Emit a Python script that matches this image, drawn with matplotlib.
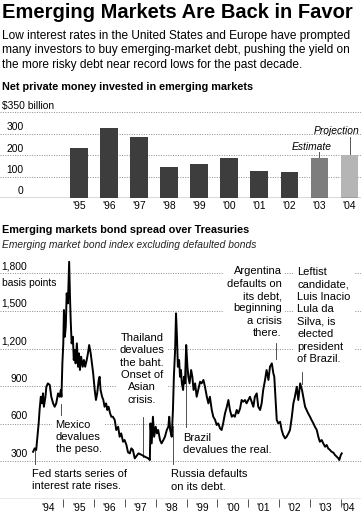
import matplotlib
matplotlib.use('Agg')
import matplotlib.pyplot as plt

plt.rcParams['font.family'] = ['Liberation Sans', 'DejaVu Sans']

W, H = 361, 520

# net private money invested in emerging markets, billions of dollars
bar_years = ["'95", "'96", "'97", "'98", "'99", "'00", "'01", "'02", "'03", "'04"]
bar_values = [235, 327, 284, 143, 158, 187, 127, 123, 187, 200]
bar_colors = ['#3d3d3d'] * 8 + ['#7d7d7d', '#b5b5b5']
bar_grid = [100, 200, 300, 400]
bar_grid_labels = ['100', '200', '300', '$350 billion']

# emerging market bond spread over treasuries, basis points
spread_dates = [
    1994.02, 1994.07, 1994.12, 1994.16, 1994.20, 1994.23, 1994.27, 1994.31, 1994.34, 1994.37,
    1994.42, 1994.45, 1994.50, 1994.56, 1994.61, 1994.67, 1994.72, 1994.77, 1994.83, 1994.88,
    1994.92, 1994.94, 1994.97, 1995.00, 1995.02, 1995.05, 1995.08, 1995.11, 1995.15, 1995.19,
    1995.22, 1995.24, 1995.27, 1995.31, 1995.34, 1995.37, 1995.40, 1995.44, 1995.48, 1995.51,
    1995.54, 1995.58, 1995.63, 1995.67, 1995.71, 1995.76, 1995.80, 1995.84, 1995.89, 1995.93,
    1995.97, 1996.02, 1996.06, 1996.10, 1996.15, 1996.18, 1996.21, 1996.26, 1996.30, 1996.34,
    1996.39, 1996.43, 1996.47, 1996.52, 1996.56, 1996.61, 1996.67, 1996.72, 1996.78, 1996.83,
    1996.88, 1996.94, 1996.99, 1997.05, 1997.10, 1997.16, 1997.21, 1997.26, 1997.32, 1997.44,
    1997.55, 1997.65, 1997.76, 1997.81, 1997.83, 1997.87, 1997.91, 1997.95, 1998.00, 1998.04,
    1998.08, 1998.14, 1998.19, 1998.25, 1998.30, 1998.36, 1998.41, 1998.44, 1998.47, 1998.52,
    1998.56, 1998.59, 1998.63, 1998.66, 1998.69, 1998.72, 1998.76, 1998.79, 1998.82, 1998.85,
    1998.89, 1998.92, 1998.95, 1998.99, 1999.03, 1999.06, 1999.10, 1999.15, 1999.19, 1999.23,
    1999.28, 1999.33, 1999.38, 1999.44, 1999.49, 1999.55, 1999.60, 1999.66, 1999.71, 1999.76,
    1999.82, 1999.87, 1999.93, 1999.98, 2000.03, 2000.09, 2000.14, 2000.19, 2000.25, 2000.31,
    2000.36, 2000.41, 2000.47, 2000.52, 2000.57, 2000.63, 2000.68, 2000.74, 2000.79, 2000.84,
    2000.90, 2000.95, 2001.06, 2001.17, 2001.22, 2001.28, 2001.33, 2001.39, 2001.44, 2001.49,
    2001.55, 2001.60, 2001.66, 2001.71, 2001.77, 2001.82, 2001.85, 2001.88, 2001.93, 2001.98,
    2002.04, 2002.09, 2002.14, 2002.20, 2002.25, 2002.31, 2002.36, 2002.42, 2002.47, 2002.52,
    2002.58, 2002.63, 2002.69, 2002.72, 2002.75, 2002.79, 2002.85, 2002.90, 2002.95, 2003.01,
    2003.06, 2003.12, 2003.17, 2003.23, 2003.28, 2003.33, 2003.39, 2003.44, 2003.50, 2003.55,
    2003.60, 2003.66, 2003.71, 2003.77, 2003.82, 2003.88, 2003.93, 2003.96, 2004.01, 2004.04,
]
spread_values = [
    374, 401, 388, 494, 601, 708, 814, 761, 841, 734,
    814, 894, 921, 908, 814, 761, 734, 761, 841, 814,
    868, 814, 1081, 1241, 1508, 1294, 1374, 1641, 1561, 1894,
    1588, 1428, 1241, 1294, 1108, 1188, 1081, 1241, 1054, 1161,
    1028, 1134, 1054, 1108, 1054, 1108, 1161, 1228, 1161, 1081,
    1001, 868, 788, 841, 948, 974, 868, 814, 788, 734,
    761, 708, 734, 681, 654, 654, 628, 548, 574, 494,
    521, 454, 468, 428, 370, 361, 401, 388, 321, 361,
    348, 334, 321, 308, 601, 441, 654, 494, 574, 521,
    548, 468, 441, 468, 494, 548, 574, 654, 548, 494,
    708, 974, 1188, 1481, 1294, 1054, 1108, 974, 1028, 921,
    868, 974, 921, 1228, 1054, 974, 921, 1028, 974, 868,
    921, 814, 868, 934, 921, 948, 894, 814, 761, 814,
    708, 654, 628, 588, 601, 561, 548, 601, 681, 734,
    788, 708, 654, 668, 654, 708, 681, 720, 788, 774,
    788, 761, 814, 734, 814, 841, 734, 708, 761, 868,
    948, 1028, 948, 1054, 1081, 1001, 974, 841, 628, 601,
    614, 548, 508, 481, 494, 521, 548, 654, 761, 814,
    894, 788, 921, 894, 868, 814, 734, 708, 681, 654,
    628, 601, 574, 548, 494, 454, 468, 441, 414, 428,
    401, 388, 374, 367, 348, 334, 321, 308, 348, 361,
]
spread_grid = [300, 600, 900, 1200, 1500, 1800]
spread_grid_labels = ['300', '600', '900', '1,200', '1,500', '1,800']
year_ticks = list(range(1995, 2005))
year_labels = ["'94", "'95", "'96", "'97", "'98", "'99", "'00", "'01", "'02", "'03", "'04"]
year_label_pos = [1994.5, 1995.5, 1996.5, 1997.5, 1998.5, 1999.5, 2000.5, 2001.5, 2002.5, 2003.5, 2004.25]

# (date, top of leader, bottom of leader, text x, text y, align, text)
events = [
    (1994.08, 390, 280, 1993.99, 146, 'left', "Fed starts series of\ninterest rate rises."),
    (1994.92, 760, 665, 1994.75, 492, 'left', "Mexico\ndevalues\nthe peso."),
    (1997.58, 650, 335, 1997.56, 1037, 'center', "Thailand\ndevalues\nthe baht.\nOnset of\nAsian\ncrisis."),
    (1998.57, 580, 275, 1998.49, 144, 'left', "Russia defaults\non its debt."),
    (1998.99, 1228, 574, 1998.88, 438, 'left', "Brazil\ndevalues the real."),
    (2001.90, 1245, 1120, 2002.09, 1570, 'right', "Argentina\ndefaults on\nits debt,\nbeginning\na crisis\nthere."),
    (2002.74, 1015, 920, 2002.60, 1464, 'left', "Leftist\ncandidate,\nLuis Inacio\nLula da\nSilva, is\nelected\npresident\nof Brazil."),
]

fig = plt.figure(figsize=(W / 100, H / 100), dpi=100)


def fx(px):
    return px / W


def fy(py):
    return 1 - py / H


grid_style = dict(color='#8a8a8a', lw=0.7, linestyle=(0, (1, 1.5)))

# headline and intro
fig.text(fx(2), fy(18.5), 'Emerging Markets Are Back in Favor', fontsize=14.5,
         fontweight='bold', va='baseline')
intro = ['Low interest rates in the United States and Europe have prompted',
         'many investors to buy emerging-market debt, pushing the yield on',
         'the more risky debt near record lows for the past decade.']
for i, line in enumerate(intro):
    fig.text(fx(2), fy(39 + 14.5 * i), line, fontsize=8.6, va='baseline')

fig.text(fx(2), fy(90.5), 'Net private money invested in emerging markets',
         fontsize=7.85, fontweight='bold', va='baseline')

# bar chart
ax1 = fig.add_axes([0, fy(198), 1, 85.6 / H])
x = range(len(bar_values))
ax1.bar(x, bar_values, width=0.585, color=bar_colors, zorder=3)
ax1.set_xlim(-78.8 / 30.08, (W - 78.8) / 30.08)
ax1.set_ylim(0, 400)
for v in bar_grid:
    ax1.axhline(v, zorder=1, **grid_style)
ax1.axhline(0, color='#444444', lw=1, zorder=4)
trans1 = ax1.get_yaxis_transform()
for v, lab in zip([0] + bar_grid, ['0'] + bar_grid_labels):
    if lab.startswith('$'):
        ax1.text(fx(2), v + 31, lab, transform=trans1, fontsize=7.4, va='center', ha='left')
    else:
        ax1.text(fx(23.5), v + 31, lab, transform=trans1, fontsize=7.4, va='center', ha='right')
ax1.set_xticks(list(x))
ax1.set_xticklabels(bar_years, fontsize=7.4)
ax1.tick_params(axis='x', length=0, pad=2.5)
ax1.set_yticks([])
for s in ax1.spines.values():
    s.set_visible(False)

ax1.text(7.75, 240, 'Estimate', fontsize=7.4, style='italic', ha='center', va='center')
ax1.plot([8, 8], [215, bar_values[8]], color='#555555', lw=0.7)
ax1.text(9.32, 314, 'Projection', fontsize=7.4, style='italic', ha='right', va='center')
ax1.plot([9, 9], [285, bar_values[9]], color='#555555', lw=0.7)

# spread chart
fig.text(fx(2), fy(232.7), 'Emerging markets bond spread over Treasuries',
         fontsize=7.85, fontweight='bold', va='baseline')
fig.text(fx(2), fy(247.7), 'Emerging market bond index excluding defaulted bonds',
         fontsize=7.4, style='italic', va='baseline', color='#222222')

ax2 = fig.add_axes([0, fy(498.5), 1, 243.75 / H])
ax2.set_xlim(1994 - 32.5 / 30.8, 1994 + (W - 32.5) / 30.8)
ax2.set_ylim(0, 1950)
for v in spread_grid:
    ax2.axhline(v, zorder=1, **grid_style)
ax2.axhline(0, color='#555555', lw=0.9, zorder=4)
trans2 = ax2.get_yaxis_transform()
for v, lab in zip(spread_grid, spread_grid_labels):
    ax2.text(fx(27.5), v + 58, lab, transform=trans2, fontsize=7.4, va='center', ha='right')
ax2.text(fx(2), 1800 - 80, 'basis points', transform=trans2, fontsize=7.4, va='center', ha='left')

ax2.plot(spread_dates, spread_values, color='black', lw=1.4, zorder=6)

for d, y0, y1, tx, ty, al, txt in events:
    ax2.plot([d, d], [y0, y1], color='#333333', lw=0.6, zorder=5)
    ax2.text(tx, ty, txt, fontsize=8, ha=al, multialignment=al, va='center',
             linespacing=1.3, zorder=3,
             bbox=dict(boxstyle='square,pad=0.3', fc='white', ec='none'))

ax2.set_xticks(year_ticks)
ax2.set_xticklabels([])
ax2.set_xticks(year_label_pos, minor=True)
ax2.set_xticklabels(year_labels, minor=True, fontsize=7.4)
ax2.tick_params(axis='x', which='major', length=6, width=0.7, color='#555555', direction='out')
ax2.tick_params(axis='x', which='minor', length=0, pad=3.5)
ax2.set_yticks([])
for s in ax2.spines.values():
    s.set_visible(False)

fig.savefig('out.png', dpi=100)
